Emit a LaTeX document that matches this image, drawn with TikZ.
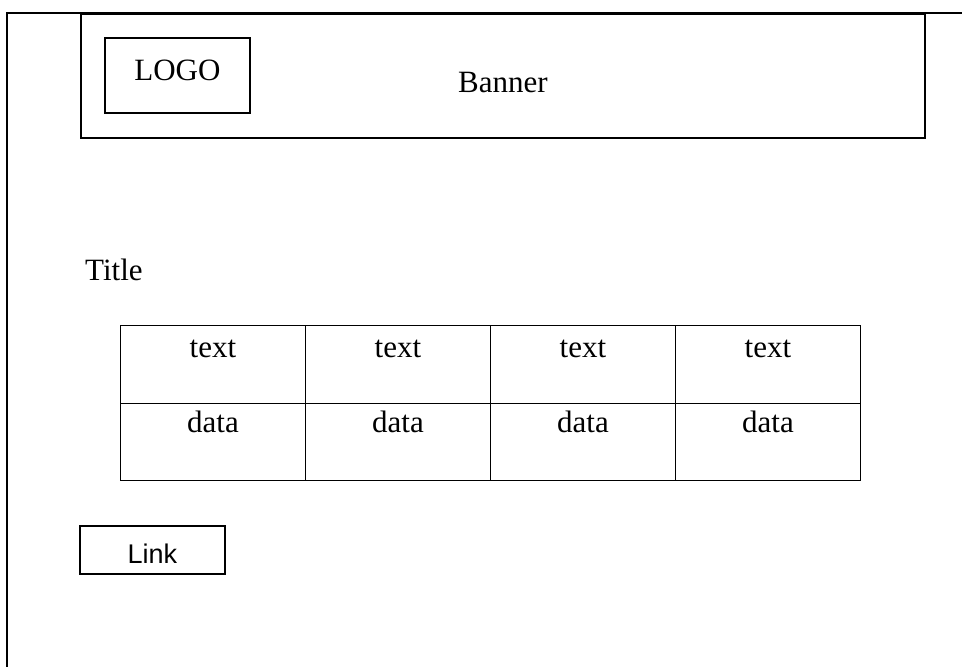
\documentclass[tikz,border=0pt]{standalone}
\usepackage{fontspec}
\setmainfont{Liberation Serif}
\setsansfont{Liberation Sans}
\usepackage{tikz}
\usetikzlibrary{positioning}

\begin{document}
\begin{tikzpicture}[x=1pt, y=-1pt,
every node/.style = {inner sep = 0pt, font = \fontsize{31}{37}\selectfont},
  frame/.style = {draw, line width = 1.8pt, rectangle},
  cell/.style = {draw, line width = 0.9pt, minimum width = 185pt, anchor = north west}
]
\useasboundingbox (0,0) rectangle (962,667);
% page edge
\coordinate (pagebottom) at (7,667);
\coordinate (pagecorner) at (7,13);
\coordinate (pageright) at (962,13);
\draw[line width = 2.2pt] (pagebottom) -- (pagecorner) -- (pageright);
% banner with logo
\node[frame, minimum width = 844pt, text height = 79pt, text depth = 45pt,
  anchor = north west] (banner) at (80,13) {Banner};
\node[frame, minimum width = 145pt, text height = 43pt, text depth = 32pt,
  anchor = north west] (logo) at (104,37) {LOGO};
% title
\node[anchor = base west] (title) at (85,280) {Title};
% table
\foreach \c in {0,...,3} {
  \node[cell, text height = 32pt, text depth = 46pt] (head\c) at (120+185*\c,325) {text};
  \node[cell, text height = 29pt, text depth = 48pt] (data\c) at (120+185*\c,403) {data};
}
% link button
\node[frame, minimum width = 145pt, text height = 38pt, text depth = 10pt,
  anchor = north west, font = \sffamily\fontsize{27}{32}\selectfont] (link) at (79,525) {Link};
\end{tikzpicture}
\end{document}
